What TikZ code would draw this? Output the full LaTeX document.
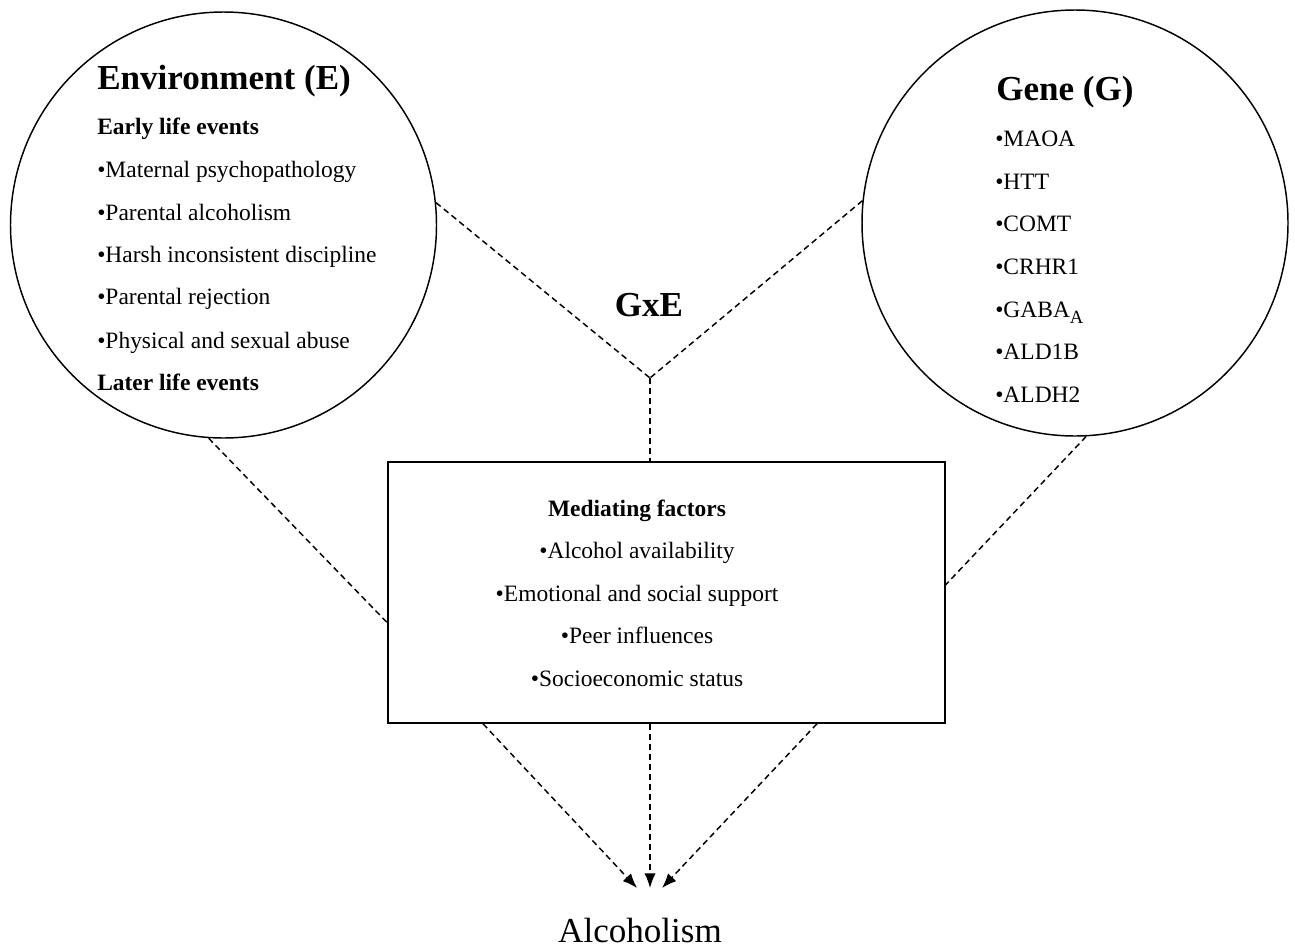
\documentclass[tikz,border=0pt]{standalone}
\usepackage{fontspec}
\setmainfont{Liberation Serif}
\usetikzlibrary{arrows.meta}
\usetikzlibrary{calc}

\tikzset{
  circ/.style={shape=circle, draw, line width=1.1pt, minimum size=319.5pt, inner sep=0pt},
  medbox/.style={shape=rectangle, draw, line width=1.1pt, minimum width=417.75pt, minimum height=195.75pt, inner sep=0pt},
  head/.style={anchor=base west, inner sep=0pt, font=\fontsize{26.3}{30}\selectfont\bfseries},
  sub/.style={anchor=base west, inner sep=0pt, font=\fontsize{17.6}{20}\selectfont\bfseries},
  txt/.style={anchor=base west, inner sep=0pt, font=\fontsize{17.6}{20}\selectfont},
  dashline/.style={line width=1.1pt, dash pattern=on 4.5pt off 3pt}
}

\begin{document}
\begin{tikzpicture}[x=0.75pt,y=-0.75pt,>={Latex[length=11pt,width=8.5pt]}]
\useasboundingbox (0,0) rectangle (1295,950);
% environment
\node[circ] (E) at (223.5,225) {};
\node[head] (Et) at (97,89) {Environment (E)};
\node[sub] (E0) at (97,134) {Early life events};
\node[txt] (E1) at (97,177) {•Maternal psychopathology};
\node[txt] (E2) at (97,220) {•Parental alcoholism};
\node[txt] (E3) at (97,262) {•Harsh inconsistent discipline};
\node[txt] (E4) at (97,304) {•Parental rejection};
\node[txt] (E5) at (97,348) {•Physical and sexual abuse};
\node[sub] (E6) at (97,390) {Later life events};
% gene
\node[circ] (G) at (1075,223) {};
\node[head] (Gt) at (996,100) {Gene (G)};
\node[txt] (G1) at (995,146) {•MAOA};
\node[txt] (G2) at (995,189) {•HTT};
\node[txt] (G3) at (995,231) {•COMT};
\node[txt] (G4) at (995,274) {•CRHR1};
\node[txt] (G5) at (995,317) {•GABA\raisebox{-4.5pt}{\fontsize{14}{16}\selectfont A}};
\node[txt] (G6) at (995,359) {•ALD1B};
\node[txt] (G7) at (995,402) {•ALDH2};
% interaction
\node[head, anchor=base] (GxE) at (649,316) {GxE};
\coordinate (J) at (650,378);
% mediating factors
\node[medbox] (M) at (666.5,592.5) {};
\node[sub, anchor=base] (M0) at (637,516) {Mediating factors};
\node[txt, anchor=base] (M1) at (637,558) {•Alcohol availability};
\node[txt, anchor=base] (M2) at (637,601) {•Emotional and social support};
\node[txt, anchor=base] (M3) at (637,643) {•Peer influences};
\node[txt, anchor=base] (M4) at (637,686) {•Socioeconomic status};
% outcome
\node[txt, anchor=base, font=\fontsize{26.3}{30}\selectfont] (A) at (640,942) {Alcoholism};
% connectors
\draw[dashline] (E.6.5) -- (J);
\draw[dashline] (G.174.3) -- (J);
\draw[dashline] (J) -- (J |- M.north);
\draw[dashline] (E.266.4) -- ($(M.south west)+(0,-101)$);
\draw[dashline] (G.273.2) -- ($(M.south east)+(0,-139)$);
\draw[dashline,->] ($(M.south)+(-183.5,0)$) -- ($(A.base)+(-3,-54)$);
\draw[dashline,->] ($(M.south)+(-16.5,0)$) -- ($(A.base)+(10,-54)$);
\draw[dashline,->] ($(M.south)+(150.5,0)$) -- ($(A.base)+(22,-54)$);
\end{tikzpicture}
\end{document}
